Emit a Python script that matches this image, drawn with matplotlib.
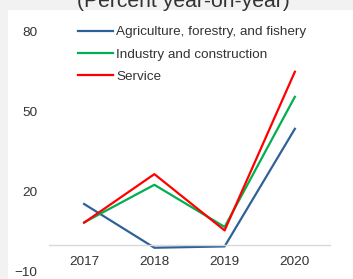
import matplotlib.pyplot as plt
from matplotlib.patches import Rectangle

plt.rcParams['font.family'] = ['Liberation Sans', 'DejaVu Sans']

# Data
years = [2017, 2018, 2019, 2020]
agriculture = [15.5, -0.9, -0.4, 43.7]
industry = [8.6, 22.7, 6.9, 55.7]
service = [8.5, 26.7, 5.6, 65.1]
y_ticks = [80, 50, 20, -10]

series = [
    ('Agriculture, forestry, and fishery', agriculture, '#2f6199'),
    ('Industry and construction', industry, '#00b050'),
    ('Service', service, '#ff0000'),
]

W, H = 353, 279
fig = plt.figure(figsize=(W / 100, H / 100), dpi=100, facecolor='#f2f2f2')

# white panel behind the chart
fig.patches.append(Rectangle((8 / W, 0), 1 - 8 / W, 1 - 10 / H,
                             transform=fig.transFigure, facecolor='white',
                             edgecolor='none', zorder=-10))

fig.text(183 / W, 1 - 7 / H, '(Percent year-on-year)', ha='center',
         va='baseline', fontsize=15.2, color='#333333')

ax = fig.add_axes([49 / W, 1 - 272 / H, (330 - 49) / W, (272 - 32) / H])
ax.set_facecolor('none')

for name, vals, col in series:
    ax.plot(years, vals, color=col, lw=1.6, label=name)

ax.set_xlim(2016.5, 2020.5)
ax.set_ylim(-10, 80)
ax.set_yticks(y_ticks)
ax.set_xticks(years)
ax.set_xticklabels([str(y) for y in years])

for s in ['top', 'right', 'left']:
    ax.spines[s].set_visible(False)
ax.spines['bottom'].set_position(('data', 0))
ax.spines['bottom'].set_color('#d9d9d9')
ax.spines['bottom'].set_linewidth(1)

ax.tick_params(axis='both', length=0, labelsize=9.7, colors='#333333')
ax.tick_params(axis='x', pad=7.5)
ax.tick_params(axis='y', pad=8.5)

ax.legend(loc='upper left', bbox_to_anchor=(78 / W, 1 - 26 / H),
          bbox_transform=fig.transFigure, frameon=False, fontsize=9.7,
          handlelength=2.6, handletextpad=0.22, labelspacing=0.72,
          borderpad=0, borderaxespad=0, labelcolor='#333333')

fig.savefig('out.png', dpi=100, facecolor=fig.get_facecolor())
